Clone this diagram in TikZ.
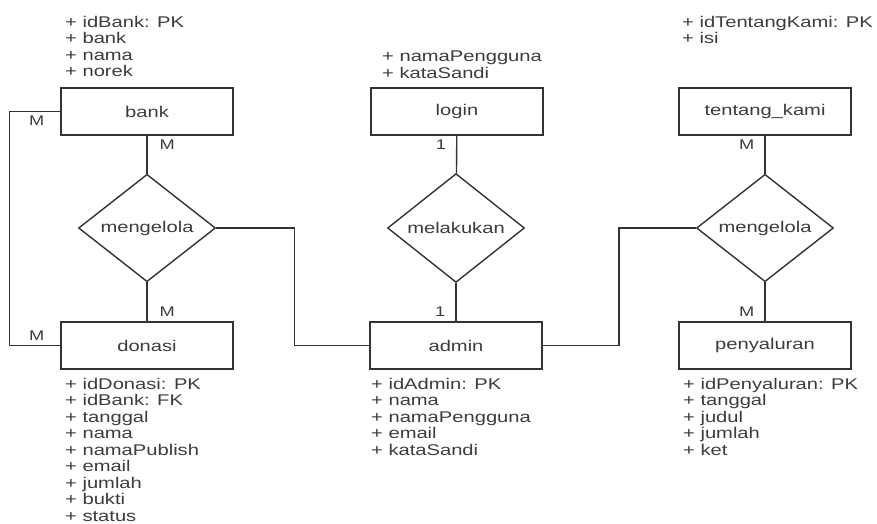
\documentclass[tikz,border=0pt]{standalone}
\usepackage{fontspec}
\setmainfont{Liberation Sans}[FakeStretch=1.3]
\usetikzlibrary{shapes.geometric}
\definecolor{erline}{HTML}{333333}
\definecolor{ertext}{HTML}{3C3C3C}
\tikzset{
  entity/.style={draw=erline, line width=1.4pt, fill=white, minimum width=172pt, minimum height=47pt, inner sep=0pt, text=ertext, font=\fontsize{15.5}{16.5}\selectfont},
  relation/.style={draw=erline, line width=1.4pt, diamond, fill=white, minimum width=137pt, minimum height=92pt, inner sep=0pt, text=ertext, font=\fontsize{15.5}{16.5}\selectfont},
  attrs/.style={anchor=north west, inner sep=0pt, align=left, text=ertext, font=\fontsize{15.5}{16.5}\selectfont},
  card/.style={inner sep=2pt, text=ertext, font=\fontsize{14}{15}\selectfont}
}
\begin{document}
\begin{tikzpicture}[x=1pt, y=-1pt]
      \useasboundingbox (0,0) rectangle (877,523);
      \node[entity] (bank) at (147,111.5) {bank};
      \node[entity] (login) at (457,111.5) {login};
      \node[entity] (tentang) at (765,111.5) {tentang\_kami};
      \node[entity] (donasi) at (147,345.5) {donasi};
      \node[entity] (admin) at (456,345.5) {admin};
      \node[entity] (penyaluran) at (765,345.5) {penyaluran};
      \node[relation] (kelolaA) at (147,228) {mengelola};
      \node[relation] (lakukan) at (456,228) {melakukan};
      \node[relation] (kelolaB) at (765,228) {mengelola};
      \node[attrs] (bankattr) at (65,16) {+ idBank: PK\\+ bank\\+ nama\\+ norek};
      \node[attrs] (loginattr) at (382,51) {+ namaPengguna\\+ kataSandi};
      \node[attrs] (tentangattr) at (682,16) {+ idTentangKami: PK\\+ isi};
      \node[attrs] (donasiattr) at (65,378) {+ idDonasi: PK\\+ idBank: FK\\+ tanggal\\+ nama\\+ namaPublish\\+ email\\+ jumlah\\+ bukti\\+ status};
      \node[attrs] (adminattr) at (371,378) {+ idAdmin: PK\\+ nama\\+ namaPengguna\\+ email\\+ kataSandi};
      \node[attrs] (penyaluranattr) at (683,378) {+ idPenyaluran: PK\\+ tanggal\\+ judul\\+ jumlah\\+ ket};
      \begin{scope}[draw=erline, line width=1.4pt]
        \draw (bank) to node[card, pos=0.25, right, xshift=10pt] {M} (kelolaA);
        \draw (kelolaA) to node[card, pos=0.75, right, xshift=10pt] {M} (donasi);
        \draw (login) to node[card, pos=0.25, left, xshift=-8pt] {1} (lakukan);
        \draw (lakukan) to node[card, pos=0.75, left, xshift=-8pt] {1} (admin);
        \draw (tentang) to node[card, pos=0.25, left, xshift=-8pt] {M} (kelolaB);
        \draw (kelolaB) to node[card, pos=0.75, left, xshift=-8pt] {M} (penyaluran);
        \draw (bank.west) -- node[card, below, xshift=2pt, yshift=-2pt] {M} ++(-51,0) |- node[card, pos=0.75, above, xshift=2pt, yshift=2pt] {M} (donasi.west);
        \draw (kelolaA.east) -- ++(78,0) |- (admin.west);
        \draw (kelolaB.west) -- ++(-77,0) |- (admin.east);
      \end{scope}
    \end{tikzpicture}
\end{document}
